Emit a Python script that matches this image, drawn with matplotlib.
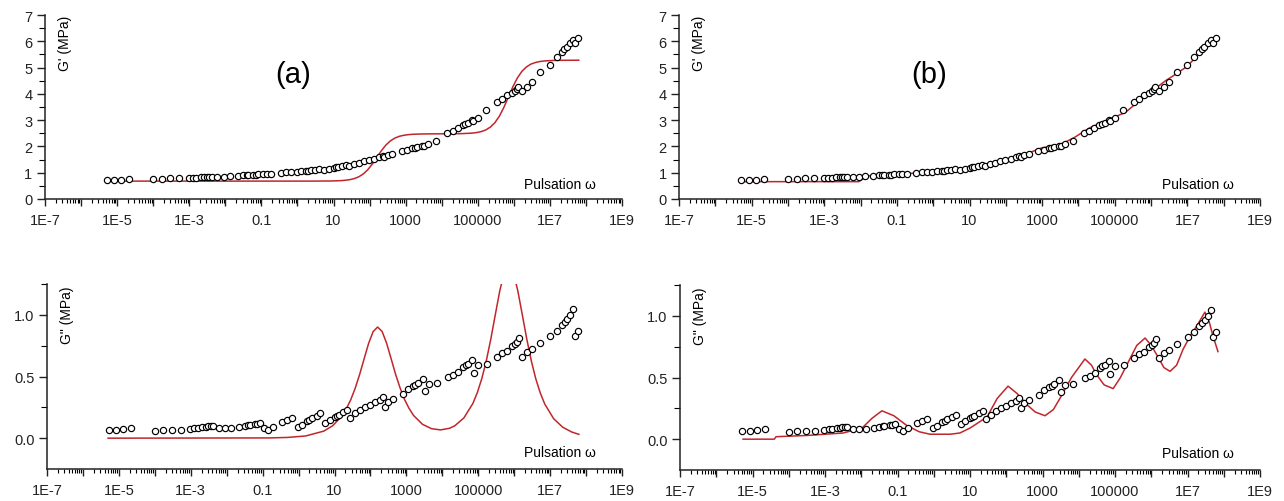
import numpy as np
import matplotlib
matplotlib.use("Agg")
import matplotlib.pyplot as plt
from matplotlib.ticker import FixedLocator, LogLocator, NullFormatter, MultipleLocator

plt.rcParams['font.family'] = ['Liberation Sans', 'DejaVu Sans']

# ---------------- data (log10 of pulsation) ----------------
log_w = [-5.28, -5.08, -4.88, -4.66, -4.00, -3.76, -3.52, -3.28, -3.02, -2.90,
         -2.80, -2.68, -2.58, -2.52, -2.45, -2.38, -2.22, -2.05, -1.88, -1.66,
         -1.50, -1.40, -1.36, -1.22, -1.15, -1.08, -0.95, -0.85, -0.72, -0.46,
         -0.32, -0.18, -0.02, 0.10, 0.23, 0.30, 0.37, 0.50, 0.60, 0.74,
         0.87, 1.00, 1.06, 1.12, 1.24, 1.35, 1.43, 1.57, 1.71, 1.85,
         1.99, 2.13, 2.27, 2.36, 2.41, 2.50, 2.63, 2.90, 3.04, 3.18,
         3.25, 3.32, 3.46, 3.52, 3.62, 3.85, 4.16, 4.30, 4.44, 4.58,
         4.65, 4.72, 4.83, 4.87, 5.00, 5.24, 5.52, 5.66, 5.80, 5.94,
         6.02, 6.08, 6.12, 6.22, 6.36, 6.50, 6.72, 7.00, 7.19, 7.33,
         7.40, 7.47, 7.56, 7.65, 7.70, 7.78]

g_storage = [0.72, 0.73, 0.74, 0.75, 0.76, 0.77, 0.78, 0.79, 0.80, 0.80,
             0.81, 0.82, 0.82, 0.83, 0.83, 0.83, 0.84, 0.85, 0.86, 0.88,
             0.90, 0.90, 0.91, 0.92, 0.93, 0.94, 0.95, 0.96, 0.97, 1.00,
             1.02, 1.04, 1.02, 1.05, 1.07, 1.08, 1.09, 1.11, 1.13, 1.12,
             1.15, 1.18, 1.20, 1.22, 1.26, 1.30, 1.27, 1.33, 1.38, 1.43,
             1.48, 1.53, 1.58, 1.62, 1.60, 1.66, 1.72, 1.83, 1.88, 1.93,
             1.95, 1.98, 2.03, 2.00, 2.08, 2.20, 2.50, 2.60, 2.70, 2.80,
             2.85, 2.90, 3.00, 2.95, 3.10, 3.40, 3.70, 3.82, 3.95, 4.05,
             4.12, 4.18, 4.25, 4.10, 4.25, 4.45, 4.85, 5.10, 5.40, 5.60,
             5.70, 5.80, 5.92, 6.05, 5.95, 6.12]

g_loss = [0.070, 0.070, 0.075, 0.080, 0.060, 0.065, 0.065, 0.070, 0.075, 0.080,
          0.085, 0.090, 0.092, 0.095, 0.098, 0.100, 0.080, 0.080, 0.080, 0.090,
          0.100, 0.105, 0.110, 0.115, 0.118, 0.120, 0.080, 0.070, 0.090, 0.130,
          0.150, 0.160, 0.090, 0.110, 0.140, 0.150, 0.160, 0.180, 0.200, 0.120,
          0.150, 0.170, 0.180, 0.190, 0.210, 0.230, 0.160, 0.200, 0.230, 0.250,
          0.270, 0.290, 0.310, 0.330, 0.250, 0.290, 0.320, 0.360, 0.400, 0.420,
          0.435, 0.450, 0.480, 0.380, 0.440, 0.450, 0.500, 0.510, 0.540, 0.580,
          0.590, 0.600, 0.630, 0.530, 0.590, 0.600, 0.660, 0.690, 0.710, 0.750,
          0.765, 0.780, 0.810, 0.660, 0.700, 0.720, 0.770, 0.830, 0.870, 0.920,
          0.945, 0.970, 1.000, 1.050, 0.830, 0.870]

# model (a): fitted curves
fit_a_gs_logw = [-5.30, 0.50, 0.95, 1.20, 1.325, 1.45, 1.575, 1.70, 1.825, 1.95,
                 2.075, 2.20, 2.325, 2.45, 2.575, 2.70, 2.825, 2.95, 3.075, 3.20,
                 3.45, 3.70, 4.35, 4.60, 4.85, 4.975, 5.10, 5.225, 5.35, 5.475,
                 5.60, 5.725, 5.85, 5.975, 6.10, 6.225, 6.35, 6.475, 6.60, 6.725,
                 6.85, 7.10, 7.35, 7.80]
fit_a_gs = [0.680, 0.681, 0.686, 0.698, 0.712, 0.735, 0.776, 0.844, 0.952, 1.112,
            1.328, 1.580, 1.832, 2.048, 2.208, 2.316, 2.385, 2.424, 2.449, 2.462,
            2.474, 2.478, 2.483, 2.489, 2.508, 2.529, 2.566, 2.629, 2.735, 2.903,
            3.152, 3.488, 3.880, 4.272, 4.608, 4.857, 5.025, 5.132, 5.193, 5.231,
            5.252, 5.271, 5.277, 5.280]

fit_a_gl_logw = [-5.30, -0.80, -0.30, 0.20, 0.70, 0.95, 1.20, 1.325, 1.45, 1.575,
                 1.70, 1.825, 1.95, 2.075, 2.20, 2.325, 2.45, 2.575, 2.70, 2.825,
                 2.95, 3.075, 3.20, 3.45, 3.70, 3.95, 4.20, 4.35, 4.60, 4.85,
                 4.975, 5.10, 5.225, 5.35, 5.475, 5.60, 5.725, 5.85, 5.975, 6.10,
                 6.225, 6.35, 6.475, 6.60, 6.725, 6.85, 7.10, 7.35, 7.60, 7.80]
fit_a_gl = [0.000, 0.002, 0.006, 0.018, 0.057, 0.101, 0.178, 0.236, 0.310, 0.404,
            0.517, 0.644, 0.769, 0.864, 0.901, 0.865, 0.770, 0.645, 0.518, 0.407,
            0.313, 0.241, 0.184, 0.112, 0.077, 0.067, 0.080, 0.101, 0.164, 0.281,
            0.370, 0.484, 0.629, 0.804, 1.002, 1.196, 1.344, 1.400, 1.344, 1.196,
            1.002, 0.804, 0.629, 0.482, 0.367, 0.277, 0.157, 0.089, 0.050, 0.031]

# model (b): fitted curves
fit_b_gs_logw = [-5.26, -2.05, -1.80, -1.00, 0.00, 0.46, 1.00, 1.65, 2.10, 2.57,
                 3.00, 3.48, 3.90, 4.30, 4.80, 5.30, 5.60, 6.02, 6.40, 6.68,
                 7.00, 7.30, 7.67, 7.80]
fit_b_gs = [0.66, 0.66, 0.88, 0.95, 1.02, 1.10, 1.15, 1.26, 1.45, 1.72,
            1.95, 2.05, 2.35, 2.70, 3.00, 3.30, 3.65, 4.10, 4.50, 4.75,
            5.05, 5.50, 6.05, 6.15]

fit_b_gl_logw = [-5.26, -4.40, -4.35, -3.50, -2.50, -1.98, -1.70, -1.43, -1.10, -0.74,
                 -0.40, -0.10, 0.45, 0.72, 1.00, 1.47, 1.75, 2.05, 2.30, 2.57,
                 2.80, 3.07, 3.30, 3.48, 3.80, 4.17, 4.35, 4.50, 4.70, 4.95,
                 5.15, 5.41, 5.60, 5.83, 6.00, 6.16, 6.35, 6.52, 6.70, 6.88,
                 7.10, 7.26, 7.48, 7.60, 7.70, 7.84]
fit_b_gl = [0.00, 0.00, 0.02, 0.03, 0.05, 0.09, 0.17, 0.23, 0.19, 0.11,
            0.06, 0.04, 0.04, 0.05, 0.09, 0.18, 0.33, 0.43, 0.37, 0.28,
            0.22, 0.19, 0.24, 0.33, 0.50, 0.65, 0.60, 0.52, 0.44, 0.41,
            0.50, 0.65, 0.76, 0.82, 0.76, 0.68, 0.58, 0.55, 0.60, 0.73,
            0.85, 0.92, 1.03, 0.95, 0.84, 0.71]

tick_exps = list(range(-7, 10))
tick_text = {-7: "1E-7", -5: "1E-5", -3: "1E-3", -1: "0.1", 1: "10",
             3: "1000", 5: "100000", 7: "1E7", 9: "1E9"}
panel_labels = ["(a)", "(b)"]
ylabel_top = "G' (MPa)"
ylabel_bottom = 'G" (MPa)'
xlabel_text = "Pulsation \u03c9"

# ---------------- figure ----------------
W, H = 1284, 502
fig = plt.figure(figsize=(W / 100, H / 100), dpi=100)
fig.patch.set_facecolor("white")

def rect(l, r, t, b):
    return [l / W, 1 - b / H, (r - l) / W, (b - t) / H]

red = "#c0262c"

def style_x(ax):
    ax.set_xscale("log")
    ax.set_xlim(1e-7, 1e9)
    ax.xaxis.set_major_locator(FixedLocator([10.0 ** e for e in tick_exps]))
    ax.set_xticklabels([tick_text.get(e, "") for e in tick_exps])
    ax.xaxis.set_minor_locator(LogLocator(base=10, subs=np.arange(2, 10), numticks=100))
    ax.xaxis.set_minor_formatter(NullFormatter())
    ax.tick_params(axis="x", which="major", length=5, width=1, direction="out",
                   labelsize=10.5, pad=5, colors="#222222")
    ax.tick_params(axis="x", which="minor", length=3, width=0.8, direction="out")
    for s in ["top", "right"]:
        ax.spines[s].set_visible(False)
    for s in ["left", "bottom"]:
        ax.spines[s].set_linewidth(1.1)
        ax.spines[s].set_color("#222222")
    ax.tick_params(axis="y", which="major", length=6, width=1, direction="out",
                   labelsize=10.5, pad=3, colors="#222222")
    ax.tick_params(axis="y", which="minor", length=4, width=0.8, direction="out")

w_data = [10.0 ** u for u in log_w]

axes_rects = {
    "a_top": rect(45, 622, 16, 200),
    "b_top": rect(679, 1260, 16, 200),
    "a_bot": rect(47, 622, 285, 470),
    "b_bot": rect(680, 1260, 286, 471),
}

mk = dict(linestyle="none", marker="o", ms=4.5, mfc="white", mec="black",
          mew=0.85, zorder=3)

for key, fits in [("a", (fit_a_gs_logw, fit_a_gs, fit_a_gl_logw, fit_a_gl)),
                  ("b", (fit_b_gs_logw, fit_b_gs, fit_b_gl_logw, fit_b_gl))]:
    # storage modulus
    ax = fig.add_axes(axes_rects[key + "_top"])
    style_x(ax)
    ax.set_ylim(0, 7)
    ax.yaxis.set_major_locator(MultipleLocator(1))
    ax.yaxis.set_minor_locator(MultipleLocator(0.5))
    ax.plot([10.0 ** u for u in fits[0]], fits[1], color=red, lw=1.1, zorder=2)
    ax.plot(w_data, g_storage, **mk)
    ax.text(0.035, 1.0, ylabel_top, rotation=90, transform=ax.transAxes,
            ha="center", va="top", fontsize=10)
    ax.text(0.955, 0.08, xlabel_text, transform=ax.transAxes, ha="right",
            va="center", fontsize=10)
    ax.text(0.43, 0.68, panel_labels[0 if key == "a" else 1],
            transform=ax.transAxes, ha="center", va="center", fontsize=21)

    # loss modulus
    ax = fig.add_axes(axes_rects[key + "_bot"])
    style_x(ax)
    ax.set_ylim(-0.25, 1.25)
    ax.yaxis.set_major_locator(FixedLocator([0.0, 0.5, 1.0]))
    ax.set_yticklabels(["0.0", "0.5", "1.0"])
    ax.yaxis.set_minor_locator(FixedLocator([0.25, 0.75, 1.25]))
    ax.plot([10.0 ** u for u in fits[2]], fits[3], color=red, lw=1.1, zorder=2)
    ax.plot(w_data, g_loss, **mk)
    ax.text(0.035, 0.99, ylabel_bottom, rotation=90, transform=ax.transAxes,
            ha="center", va="top", fontsize=10)
    ax.text(0.955, 0.09, xlabel_text, transform=ax.transAxes, ha="right",
            va="center", fontsize=10)

fig.savefig("out.png", dpi=100, facecolor="white")
